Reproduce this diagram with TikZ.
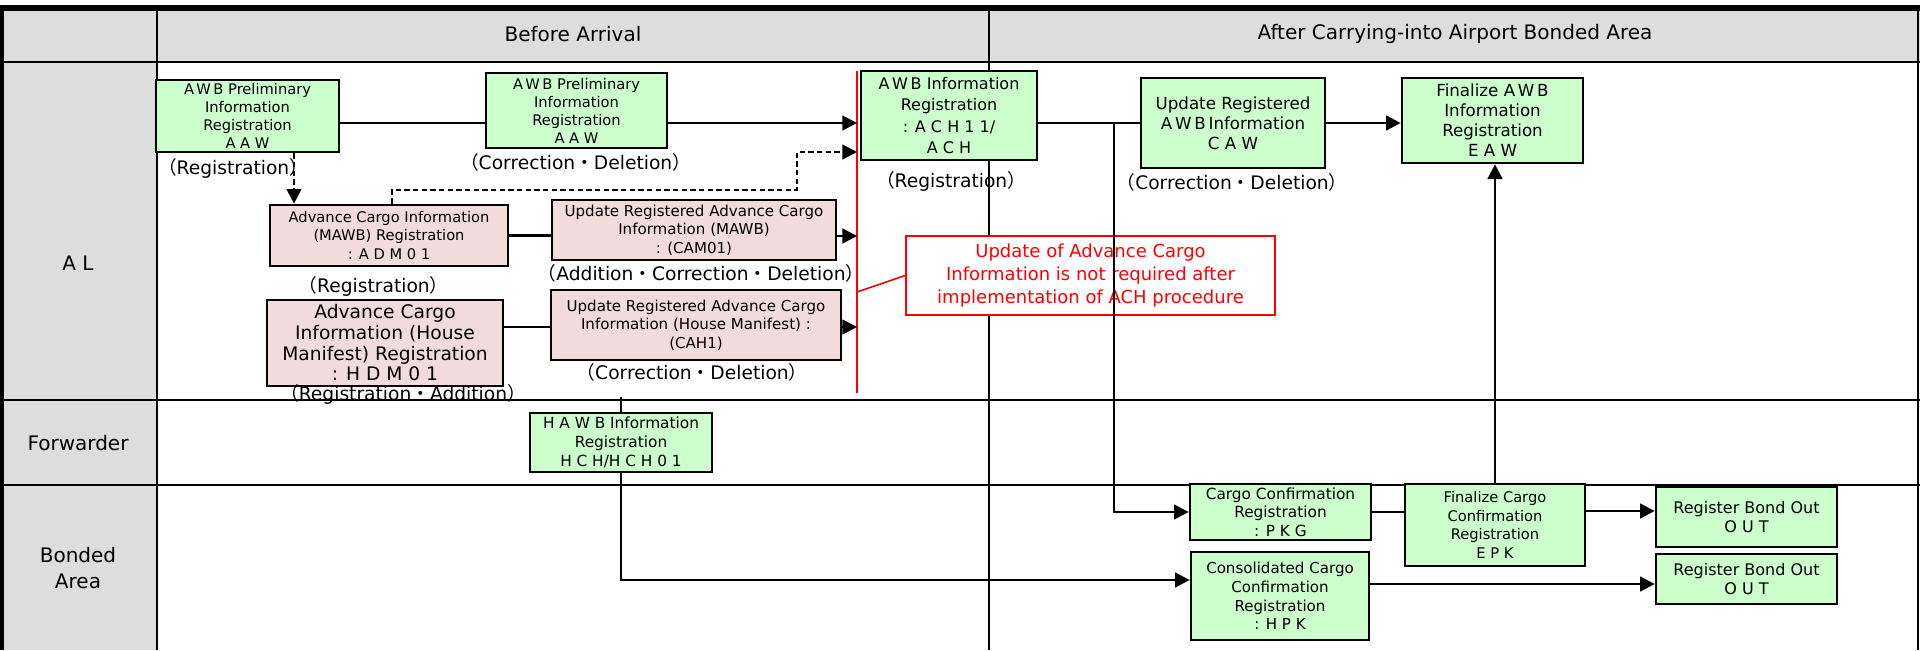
\documentclass[tikz,border=0pt]{standalone}
\usepackage{fontspec}
\setmainfont{DejaVu Sans}
\newfontfamily\jpfont{Noto Sans CJK JP}
\usetikzlibrary{arrows.meta}
\definecolor{gfill}{HTML}{CCFFCC}
\definecolor{pfill}{HTML}{F2DCDB}
\definecolor{hdrgray}{HTML}{DDDDDD}
\newcommand\myL{{\jpfont （}}
\newcommand\myR{{\jpfont ）}}
\newcommand\myD{{\jpfont ・}}
\tikzset{
  gbox/.style={draw=black, line width=2pt, fill=gfill, align=center, inner sep=0pt,
    font=\fontsize{11}{14}\selectfont},
  pbox/.style={gbox, fill=pfill},
  sz/.style 2 args={minimum width=#1*0.75pt, minimum height=#2*0.75pt},
  lbl/.style={inner sep=0pt, font=\fontsize{14}{15}\selectfont},
  hdtext/.style={inner sep=0pt, align=center, font=\fontsize{15}{19}\selectfont},
  conn/.style={line width=2pt},
  arr/.style={line width=2pt, -{Triangle[length=11pt,width=11pt]}},
  dsh/.style={line width=1.6pt, dash pattern=on 4pt off 2.5pt},
  dsharr/.style={dsh, -{Triangle[length=11pt,width=11pt]}},
  gridline/.style={line width=1.6pt},
  redline/.style={draw=red, line width=1.5pt},
}
\begin{document}
\begin{tikzpicture}[x=0.75pt, y=-0.75pt]
\useasboundingbox (0,0) rectangle (1920,650);
\fill[white] (0,0) rectangle (1920,650);
% header and left column
\fill[hdrgray] (0,11) rectangle (1920,62);
\fill[hdrgray] (0,62) rectangle (157,650);
\fill[black] (0,5) rectangle (1920,11);
\draw[gridline] (0,62) -- (1920,62);
\draw[gridline] (0,400) -- (1920,400);
\draw[gridline] (0,485) -- (1920,485);
\draw[gridline] (157,11) -- (157,650);
\draw[gridline] (989,11) -- (989,650);
\draw[gridline] (1918,11) -- (1918,650);
\draw[line width=3pt] (1.5,5) -- (1.5,650);

% header texts
\node[hdtext] (hb) at (573,34) {Before Arrival};
\node[hdtext] (ha) at (1455,34) {After Carrying-into Airport Bonded Area};
\node[hdtext] (lal) at (78,263) {A L};
\node[hdtext] (lfw) at (78,443) {Forwarder};
\node[hdtext] (lba) at (78,568) {Bonded\\Area};

% red vertical line
\coordinate (rtop) at (857,71);
\coordinate (rbot) at (857,393);
\draw[redline] (rtop) -- (rbot);

% level coordinates
\coordinate (y152) at (0,152);
\coordinate (y190) at (0,190);
\coordinate (y236) at (0,236);
\coordinate (y292) at (0,292);
\coordinate (y327) at (0,327);
\coordinate (y397) at (0,397);
\coordinate (y511) at (0,511);
\coordinate (y580) at (0,580);
\coordinate (y584) at (0,584);
\coordinate (x294) at (294,0);
\coordinate (x392) at (392,0);
\coordinate (x797) at (797,0);
\coordinate (x1114) at (1114,0);

% boxes
\node[gbox, sz={183}{72}, font=\fontsize{11}{13.5}\selectfont] (aaw1) at (247.5,116) {A\,W\,B Preliminary\\Information\\Registration\\A A W};
\node[gbox, sz={181}{75}, font=\fontsize{11}{13.5}\selectfont] (aaw2) at (576.5,110.5) {A\,W\,B Preliminary\\Information\\Registration\\A A W};
\node[gbox, sz={176}{89}, font=\fontsize{12}{16}\selectfont] (ach) at (949,115.5) {A\,W\,B Information\\Registration\\: A C H 1 1/\\A C H};
\node[gbox, sz={184}{90}, font=\fontsize{12.5}{15}\selectfont] (caw) at (1233,123) {Update Registered\\A\,W\,B\,Information\\C A W};
\node[gbox, sz={181}{85}, font=\fontsize{12.5}{15}\selectfont] (eaw) at (1492.5,120.5) {Finalize A\,W\,B\\Information\\Registration\\E A W};
\node[pbox, sz={238}{61}] (adm) at (389,235.5) {Advance Cargo Information\\(MAWB) Registration\\: A D M 0 1};
\node[pbox, sz={284}{60}, font=\fontsize{11.3}{14}\selectfont] (cam) at (694,230) {Update Registered Advance Cargo\\Information (MAWB)\\: (CAM01)};
\node[pbox, sz={236}{86}, font=\fontsize{14}{15.5}\selectfont] (hdm) at (385,343) {Advance Cargo\\Information (House\\Manifest) Registration\\: H D M 0 1};
\node[pbox, sz={290}{70}, font=\fontsize{11.3}{14}\selectfont] (cah) at (696,325) {Update Registered Advance Cargo\\Information (House Manifest) :\\(CAH1)};
\node[gbox, sz={182}{59}, font=\fontsize{11.5}{14}\selectfont] (hawb) at (621,442.5) {H A W B Information\\Registration\\H C H/H C H 0 1};
\node[gbox, sz={181}{56}, font=\fontsize{11.5}{14}\selectfont] (pkg) at (1280.5,512) {Cargo Confirmation\\Registration\\: P K G};
\node[gbox, sz={180}{82}] (epk) at (1495,525) {Finalize Cargo\\Confirmation\\Registration\\E P K};
\node[gbox, sz={181}{60}, font=\fontsize{12}{14.5}\selectfont] (out1) at (1746.5,517) {Register Bond Out\\O U T};
\node[gbox, sz={178}{88}, font=\fontsize{11.3}{14}\selectfont] (hpk) at (1280,596) {Consolidated Cargo\\Confirmation\\Registration\\: H P K};
\node[gbox, sz={181}{50}, font=\fontsize{12}{14.5}\selectfont] (out2) at (1746.5,579) {Register Bond Out\\O U T};

% red callout
\node[draw=red, line width=1.2pt, fill=white, text=red, align=center, inner sep=0pt, sz={369}{79},
  font=\fontsize{13.5}{17}\selectfont] (note) at (1090.5,275.5)
  {Update of Advance Cargo\\Information is not required after\\implementation of ACH procedure};
\draw[redline, line width=1.2pt] (note.west) -- (rtop |- y292);

% labels
\node[lbl] (l1) at (233,168) {\myL Registration\myR};
\node[lbl] (l2) at (575.5,162) {\myL Correction\myD Deletion\myR};
\node[lbl] (l3) at (951,181) {\myL Registration\myR};
\node[lbl] (l4) at (1232,182.5) {\myL Correction\myD Deletion\myR};
\node[lbl] (l5) at (701,273) {\myL Addition\myD Correction\myD Deletion\myR};
\node[lbl] (l6) at (373.5,286) {\myL Registration\myR};
\node[lbl] (l7) at (692,372) {\myL Correction\myD Deletion\myR};
\node[lbl] (l8) at (403,394) {\myL Registration\myD Addition\myR};

% connectors main row
\draw[conn] (aaw1.east |- caw.west) -- (aaw2.west |- caw.west);
\draw[arr] (aaw2.east |- caw.west) -- (rtop |- caw.west);
\draw[conn] (ach.east |- caw.west) -- (caw.west);
\draw[arr] (caw.east) -- (eaw.west |- caw.east);
% dashed
\draw[dsharr] (aaw1.south -| x294) -- (adm.north -| x294);
\draw[dsharr] (adm.north -| x392) -- (x392 |- y190) -- (x797 |- y190) -- (x797 |- y152) -- (rtop |- y152);
% pink rows
\draw[conn] (adm.east) -- (cam.west |- adm.east);
\draw[arr] (cam.east |- y236) -- (rtop |- y236);
\draw[conn] (hdm.east |- y327) -- (cah.west |- y327);
\draw[arr] (cah.east |- y327) -- (rtop |- y327);
% branch to PKG
\draw[arr] (x1114 |- caw.west) |- (pkg.west);
\draw[conn] (pkg.east) -- (epk.west |- pkg.east);
\draw[arr] (epk.north) -- (epk.north |- eaw.south);
\draw[arr] (epk.east |- y511) -- (out1.west |- y511);
% HAWB
\draw[conn] (hawb.north |- y397) -- (hawb.north);
\draw[arr] (hawb.south) |- (hpk.west |- y580);
\draw[arr] (hpk.east |- y584) -- (out2.west |- y584);
\end{tikzpicture}
\end{document}
